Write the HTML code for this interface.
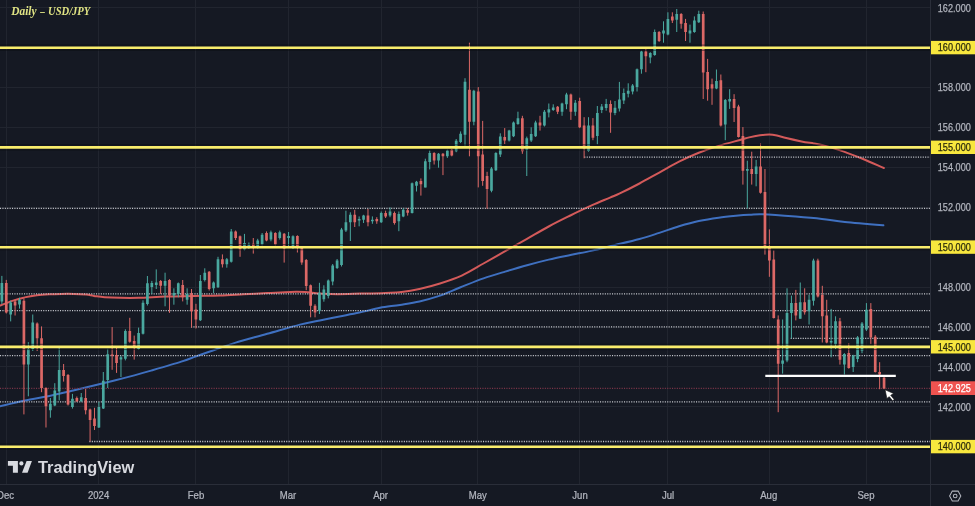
<!DOCTYPE html>
<html><head><meta charset="utf-8"><title>USD/JPY Daily</title>
<style>html,body{margin:0;padding:0;background:#151923;}body{width:975px;height:506px;overflow:hidden;position:relative;}</style>
</head><body>
<svg width="975" height="506" viewBox="0 0 975 506" style="position:absolute;left:0;top:0;filter:blur(0.3px)"><path d="M0 446.5H930M0 406.5H930M0 366.5H930M0 327.5H930M0 287.5H930M0 247.5H930M0 207.5H930M0 167.5H930M0 127.5H930M0 87.5H930M0 47.5H930M0 7.5H930M6.5 0V484M98.5 0V484M195.5 0V484M288.5 0V484M381.5 0V484M477.5 0V484M579.5 0V484M667.5 0V484M769.5 0V484M866.5 0V484" stroke="#21252f" stroke-width="1" fill="none"/><path d="M930.5 0V506M0 484.5H975" stroke="#2a2e39" stroke-width="1" fill="none"/><path d="M0.0 305.6C2.1 304.8 8.2 302.3 12.3 300.9C16.4 299.5 20.5 298.3 24.6 297.4C28.7 296.4 32.8 295.7 36.9 295.2C41.0 294.7 45.1 294.5 49.2 294.3C53.3 294.1 57.4 294.0 61.5 293.9C65.6 293.8 69.7 293.8 73.8 293.9C77.9 294.0 82.8 294.3 86.2 294.6C89.6 294.9 90.9 295.5 94.0 295.9C97.1 296.3 100.3 296.9 104.6 297.2C108.9 297.5 114.4 297.7 120.0 297.8C125.6 297.9 130.7 298.0 138.4 297.8C146.1 297.6 156.8 296.9 166.0 296.6C175.2 296.3 184.7 296.2 193.7 296.0C202.7 295.8 211.7 295.8 220.0 295.5C228.3 295.2 235.7 294.7 243.6 294.3C251.5 293.9 259.3 293.5 267.2 293.1C275.1 292.7 284.5 292.1 290.8 291.9C297.1 291.7 300.3 291.8 305.0 292.0C309.7 292.2 313.6 293.0 319.1 293.4C324.6 293.8 330.9 294.2 338.0 294.2C345.1 294.2 353.6 293.8 361.5 293.6C369.4 293.4 378.4 293.2 385.1 292.9C391.8 292.6 395.7 292.7 401.6 292.0C407.5 291.3 414.1 290.1 420.5 288.7C426.9 287.3 433.1 285.7 440.0 283.5C446.9 281.3 454.4 278.9 461.7 275.6C468.9 272.3 476.2 267.6 483.5 263.5C490.8 259.4 497.9 255.3 505.2 251.2C512.5 247.1 519.8 243.0 527.0 238.9C534.2 234.8 541.5 230.4 548.7 226.5C555.9 222.6 563.1 219.1 570.4 215.5C577.6 211.9 585.6 208.2 592.2 205.2C598.8 202.2 605.4 199.6 610.0 197.6C614.6 195.6 614.9 195.8 619.8 193.4C624.7 191.1 632.9 187.0 639.5 183.5C646.1 180.0 652.7 176.2 659.3 172.6C665.9 169.0 672.4 165.0 679.0 161.7C685.6 158.4 692.2 155.4 698.8 152.8C705.4 150.2 711.7 148.0 718.6 145.9C725.5 143.8 734.9 141.4 740.0 140.0C745.1 138.6 745.9 138.2 749.2 137.4C752.5 136.6 756.7 135.8 760.0 135.3C763.3 134.8 766.4 134.6 769.2 134.6C772.0 134.6 774.1 135.0 776.9 135.6C779.7 136.2 782.1 137.0 786.2 138.0C790.3 139.0 796.9 140.5 801.5 141.4C806.1 142.3 810.2 142.8 813.8 143.4C817.4 144.1 820.0 144.6 823.1 145.3C826.2 146.1 828.2 146.6 832.3 147.9C836.4 149.2 842.6 151.2 847.7 153.1C852.8 154.9 857.1 156.5 863.1 159.0C869.1 161.5 880.3 166.5 883.8 168.0" stroke="#d35a5a" stroke-width="2" fill="none" stroke-linecap="round"/><path d="M0.0 406.3C3.9 405.4 15.0 402.5 23.6 400.7C32.2 398.9 43.3 397.1 51.4 395.5C59.5 393.9 64.6 392.5 71.9 390.8C79.2 389.1 86.4 387.4 95.0 385.3C103.6 383.2 114.1 380.6 123.7 378.1C133.3 375.6 142.8 372.9 152.4 370.2C162.0 367.4 174.0 363.9 181.2 361.6C188.4 359.3 190.7 358.3 195.5 356.6C200.3 354.9 203.3 353.8 209.9 351.5C216.5 349.2 225.4 345.8 235.0 342.9C244.6 339.9 256.4 336.9 267.2 333.8C278.0 330.8 291.2 326.8 300.0 324.6C308.8 322.4 313.2 321.9 319.8 320.5C326.4 319.1 332.9 317.8 339.5 316.5C346.1 315.2 352.6 314.1 359.3 312.6C366.1 311.2 373.2 309.1 380.0 307.8C386.8 306.5 393.4 306.0 400.0 304.9C406.6 303.8 412.9 302.9 419.5 301.4C426.1 299.9 432.6 298.2 439.3 295.9C446.1 293.6 452.6 290.4 460.0 287.5C467.4 284.6 476.0 281.0 483.5 278.4C491.0 275.8 497.9 273.8 505.2 271.6C512.5 269.4 519.8 267.2 527.0 265.2C534.2 263.2 541.5 261.3 548.7 259.6C555.9 257.9 563.1 256.5 570.4 255.0C577.6 253.5 584.8 252.3 592.2 250.6C599.6 248.9 607.1 246.9 615.0 245.0C622.9 243.1 632.1 241.0 639.5 239.0C646.9 237.0 652.7 235.0 659.3 232.9C665.9 230.8 672.4 228.3 679.0 226.3C685.6 224.3 692.2 222.4 698.8 221.0C705.4 219.6 712.0 218.6 718.6 217.7C725.2 216.8 733.1 216.1 738.3 215.6C743.5 215.1 745.9 215.0 750.0 214.8C754.1 214.6 755.2 214.0 762.8 214.3C770.4 214.6 785.8 215.8 795.6 216.6C805.5 217.4 813.7 218.1 821.9 219.0C830.1 219.9 834.6 220.9 844.9 222.0C855.1 223.1 877.0 224.8 883.4 225.3" stroke="#3f70c0" stroke-width="2" fill="none" stroke-linecap="round"/><path d="M584.3 157.2H930M0.0 208.3H930M0.0 293.8H930M0.0 310.7H930M191.0 326.8H930M790.7 338.4H930M0.0 355.7H930M0.0 401.8H930M89.4 441.5H930" stroke="#c4c6cc" stroke-width="1.3" stroke-dasharray="1.1 1.3" fill="none"/><path d="M0 388.3H930" stroke="#7a3548" stroke-width="1.3" stroke-dasharray="1.1 1.3" fill="none"/><path d="M1.86 275.9V304.0M10.68 300.7V321.4M19.50 297.7V308.6M28.33 342.2V396.3M32.74 314.5V351.0M50.38 398.0V417.7M54.79 383.2V406.2M59.20 348.1V400.4M72.44 393.9V408.6M81.26 393.0V402.0M98.90 402.0V428.0M103.31 372.0V409.0M107.72 348.9V388.0M120.96 355.6V377.0M125.37 329.3V360.4M138.60 327.6V349.8M143.01 300.3V334.5M147.42 276.0V305.5M151.83 280.9V294.0M156.25 269.4V289.0M165.07 272.7V306.3M173.89 288.3V304.7M178.30 282.5V297.3M187.12 288.3V304.7M200.35 275.0V321.0M204.77 268.3V281.5M213.59 281.5V293.0M218.00 256.8V288.0M226.82 258.0V267.7M231.23 229.0V262.6M244.47 233.9V250.3M248.88 242.5V249.0M257.70 238.8V248.6M262.11 233.0V245.3M270.93 230.6V241.3M279.75 230.6V239.6M288.57 232.0V248.0M292.99 235.3V249.0M319.45 282.8V314.0M323.86 285.3V301.7M328.27 279.5V298.4M332.69 264.0V285.3M337.10 259.0V269.0M341.51 227.9V266.5M345.92 210.7V232.0M350.33 212.3V241.0M359.15 216.4V226.3M363.56 214.8V223.0M372.38 216.4V223.8M381.21 211.5V223.0M390.03 207.4V217.2M398.85 211.5V231.2M403.26 208.2V217.2M412.08 182.5V213.5M416.49 180.9V191.5M425.32 158.7V187.4M429.73 150.5V169.4M438.55 153.0V167.7M447.37 149.7V157.9M456.19 139.0V152.2M460.60 131.4V143.1M465.01 78.2V145.6M473.84 89.8V125.3M491.48 167.0V192.3M495.89 152.2V171.0M500.30 133.3V157.0M509.12 129.8V141.5M513.54 121.5V137.1M517.95 111.7V124.8M526.77 136.6V176.0M531.18 127.3V142.0M535.59 120.7V137.0M544.41 110.0V126.5M548.82 103.5V117.4M553.24 104.3V110.9M562.06 102.7V115.8M566.47 92.8V109.2M575.29 100.0V115.8M588.52 117.2V151.7M597.34 106.0V144.3M601.76 104.0V113.1M606.17 98.9V110.7M614.99 101.0V115.2M619.40 81.9V111.5M623.81 88.5V104.0M628.22 83.3V97.4M632.63 84.0V94.4M637.04 68.5V91.5M641.45 50.7V73.7M650.28 52.2V63.3M654.69 29.5V55.8M663.51 21.3V42.7M667.92 12.3V35.3M676.74 9.0V32.0M689.98 24.6V42.7M694.39 16.4V32.8M698.80 10.7V23.0M716.44 69.5V89.2M725.26 99.0V140.2M729.67 89.2V108.9M747.32 160.7V208.4M756.14 159.9V186.3M782.61 319.5V373.6M787.02 288.3V362.2M791.43 295.6V338.4M800.25 282.5V318.7M809.07 294.8V324.5M813.48 258.7V305.6M831.13 308.9V357.3M835.54 316.3V349.0M844.36 353.1V374.5M853.18 354.8V372.0M857.59 336.0V362.2M862.00 322.0V353.2M866.42 303.1V331.0" stroke="#4aa89f" stroke-width="1" fill="none"/><path d="M0.51 282.9h2.7v18.7h-2.7zM9.33 302.6h2.7v11.9h-2.7zM18.15 299.7h2.7v4.9h-2.7zM26.98 349.0h2.7v15.5h-2.7zM31.39 322.4h2.7v26.7h-2.7zM49.03 403.7h2.7v6.6h-2.7zM53.44 390.6h2.7v14.8h-2.7zM57.85 370.0h2.7v21.4h-2.7zM71.09 398.8h2.7v8.2h-2.7zM79.91 397.2h2.7v4.1h-2.7zM97.55 407.0h2.7v20.5h-2.7zM101.96 380.7h2.7v27.9h-2.7zM106.37 354.2h2.7v25.8h-2.7zM119.61 357.2h2.7v2.2h-2.7zM124.02 331.1h2.7v27.6h-2.7zM137.25 332.9h2.7v16.0h-2.7zM141.66 302.7h2.7v31.1h-2.7zM146.07 283.3h2.7v20.7h-2.7zM150.48 283.0h2.7v4.0h-2.7zM154.90 282.5h2.7v2.5h-2.7zM163.72 280.9h2.7v4.9h-2.7zM172.54 293.0h2.7v2.6h-2.7zM176.95 283.3h2.7v10.7h-2.7zM185.77 294.0h2.7v5.7h-2.7zM199.00 280.9h2.7v39.4h-2.7zM203.42 272.7h2.7v7.3h-2.7zM212.24 282.5h2.7v5.8h-2.7zM216.65 259.3h2.7v27.9h-2.7zM225.47 259.3h2.7v4.9h-2.7zM229.88 231.4h2.7v30.4h-2.7zM243.12 242.9h2.7v6.6h-2.7zM247.53 244.5h2.7v3.3h-2.7zM256.35 240.4h2.7v6.6h-2.7zM260.76 234.7h2.7v9.8h-2.7zM269.58 232.2h2.7v7.4h-2.7zM278.40 232.2h2.7v5.8h-2.7zM287.22 236.0h2.7v2.0h-2.7zM291.64 236.2h2.7v11.4h-2.7zM318.10 292.7h2.7v18.0h-2.7zM322.51 289.4h2.7v9.8h-2.7zM326.92 280.4h2.7v15.6h-2.7zM331.33 265.6h2.7v15.9h-2.7zM335.75 260.5h2.7v7.5h-2.7zM340.16 229.5h2.7v35.5h-2.7zM344.57 222.2h2.7v8.2h-2.7zM348.98 214.8h2.7v7.4h-2.7zM357.80 218.9h2.7v1.6h-2.7zM362.21 215.6h2.7v4.1h-2.7zM371.03 219.7h2.7v1.6h-2.7zM379.86 213.1h2.7v9.1h-2.7zM388.68 211.5h2.7v4.1h-2.7zM397.50 214.0h2.7v7.3h-2.7zM401.91 209.8h2.7v6.6h-2.7zM410.73 183.3h2.7v29.8h-2.7zM415.14 181.7h2.7v4.1h-2.7zM423.97 161.2h2.7v26.2h-2.7zM428.38 153.0h2.7v9.0h-2.7zM437.20 153.8h2.7v6.6h-2.7zM446.02 150.5h2.7v5.8h-2.7zM454.84 140.7h2.7v10.6h-2.7zM459.25 133.8h2.7v8.2h-2.7zM463.66 81.8h2.7v52.9h-2.7zM472.49 90.7h2.7v31.1h-2.7zM490.13 168.6h2.7v22.1h-2.7zM494.54 153.0h2.7v17.2h-2.7zM498.95 136.6h2.7v18.0h-2.7zM507.77 130.6h2.7v9.8h-2.7zM512.19 122.4h2.7v13.9h-2.7zM516.60 118.3h2.7v5.7h-2.7zM525.42 138.2h2.7v11.5h-2.7zM529.83 134.0h2.7v6.4h-2.7zM534.24 122.4h2.7v13.9h-2.7zM543.06 111.7h2.7v13.9h-2.7zM547.47 109.2h2.7v3.3h-2.7zM551.88 107.6h2.7v2.4h-2.7zM560.71 103.5h2.7v8.2h-2.7zM565.12 94.5h2.7v9.8h-2.7zM573.94 102.7h2.7v9.0h-2.7zM587.17 125.4h2.7v25.5h-2.7zM595.99 113.1h2.7v23.0h-2.7zM600.41 106.6h2.7v3.4h-2.7zM604.82 104.1h2.7v3.9h-2.7zM613.64 107.8h2.7v5.3h-2.7zM618.05 99.6h2.7v8.9h-2.7zM622.46 93.0h2.7v7.4h-2.7zM626.87 90.7h2.7v3.0h-2.7zM631.28 85.6h2.7v5.9h-2.7zM635.69 69.3h2.7v17.7h-2.7zM640.10 51.5h2.7v17.8h-2.7zM648.93 53.0h2.7v4.5h-2.7zM653.34 32.0h2.7v23.0h-2.7zM662.16 30.4h2.7v3.2h-2.7zM666.57 18.9h2.7v15.6h-2.7zM675.39 13.9h2.7v5.8h-2.7zM688.63 30.4h2.7v3.2h-2.7zM693.04 20.5h2.7v11.5h-2.7zM697.45 13.9h2.7v8.3h-2.7zM715.09 81.0h2.7v7.4h-2.7zM723.91 99.9h2.7v24.7h-2.7zM728.32 99.0h2.7v2.5h-2.7zM745.97 169.0h2.7v1.7h-2.7zM754.79 166.6h2.7v7.4h-2.7zM781.26 360.6h2.7v3.2h-2.7zM785.67 313.0h2.7v47.5h-2.7zM790.08 303.1h2.7v9.9h-2.7zM798.90 302.3h2.7v16.4h-2.7zM807.72 299.8h2.7v11.5h-2.7zM812.13 260.4h2.7v40.3h-2.7zM829.78 340.9h2.7v1.6h-2.7zM834.19 321.2h2.7v23.0h-2.7zM843.01 354.0h2.7v10.6h-2.7zM851.83 355.6h2.7v11.5h-2.7zM856.24 337.6h2.7v21.3h-2.7zM860.65 323.6h2.7v27.1h-2.7zM865.07 309.7h2.7v19.7h-2.7z" fill="#4aa89f"/><path d="M6.27 279.9V313.5M15.09 299.7V315.5M23.91 298.7V414.4M37.15 322.4V351.0M41.56 326.4V392.2M45.97 387.3V427.5M63.61 364.0V381.6M68.02 374.0V405.5M76.85 396.5V402.0M85.67 389.0V414.4M90.08 408.6V441.5M94.49 407.8V430.0M112.13 327.1V369.8M116.55 348.0V372.9M129.78 317.8V342.7M134.19 335.6V359.6M160.66 280.0V294.0M169.48 279.2V312.9M182.71 280.0V301.4M191.53 289.0V327.6M195.94 303.8V328.5M209.18 271.0V290.5M222.41 254.4V267.5M235.64 230.5V240.0M240.05 235.5V256.8M253.29 238.0V253.6M266.52 231.4V241.3M275.34 232.2V245.3M284.16 233.0V262.6M297.40 235.3V252.5M301.81 246.0V264.8M306.22 259.0V290.2M310.63 284.5V317.3M315.04 304.2V317.3M354.74 209.8V227.0M367.97 209.0V226.3M376.79 217.2V223.8M385.62 210.7V218.0M394.44 211.5V224.6M407.67 208.2V215.6M420.90 178.4V195.6M434.14 152.2V164.5M442.96 153.0V175.1M451.78 148.9V156.3M469.43 42.7V156.3M478.25 87.1V187.4M482.66 120.9V185.8M487.07 171.8V208.8M504.71 128.1V144.0M522.36 115.8V153.8M540.00 115.8V130.6M557.65 106.0V114.1M570.88 93.6V119.9M579.70 97.7V128.1M584.11 117.2V158.3M592.93 118.1V140.2M610.58 100.4V132.8M645.87 49.2V72.2M659.10 31.0V42.0M672.33 12.3V23.0M681.15 13.1V28.7M685.56 18.9V41.0M703.21 11.5V99.0M707.62 58.9V100.7M712.03 78.6V104.8M720.85 74.5V126.5M734.09 94.2V122.0M738.50 104.8V137.5M742.91 127.1V184.6M751.73 151.7V184.6M760.55 143.5V193.6M764.96 169.0V254.6M769.37 229.4V276.8M773.78 250.5V318.5M778.20 315.4V412.2M795.84 289.9V320.4M804.66 288.3V314.6M817.89 258.7V297.5M822.31 285.8V342.5M826.72 299.8V343.3M839.95 317.9V364.6M848.77 343.3V368.7M870.83 303.1V344.2M875.24 335.1V372.5M879.65 362.2V389.2M884.06 377.0V389.2" stroke="#dc6866" stroke-width="1" fill="none"/><path d="M4.92 282.9h2.7v29.6h-2.7zM13.74 301.6h2.7v4.0h-2.7zM22.56 300.7h2.7v63.8h-2.7zM35.80 323.4h2.7v14.8h-2.7zM40.21 338.2h2.7v49.9h-2.7zM44.62 388.1h2.7v18.1h-2.7zM62.26 370.0h2.7v6.0h-2.7zM66.67 375.0h2.7v29.5h-2.7zM75.50 398.0h2.7v3.3h-2.7zM84.32 398.0h2.7v12.3h-2.7zM88.73 409.5h2.7v10.6h-2.7zM93.14 418.5h2.7v7.4h-2.7zM110.78 354.4h2.7v1.4h-2.7zM115.20 355.1h2.7v8.0h-2.7zM128.43 331.1h2.7v10.7h-2.7zM132.84 340.9h2.7v7.1h-2.7zM159.31 280.9h2.7v4.9h-2.7zM168.13 280.0h2.7v15.6h-2.7zM181.36 285.0h2.7v12.3h-2.7zM190.18 293.2h2.7v18.0h-2.7zM194.59 309.6h2.7v9.8h-2.7zM207.83 271.8h2.7v17.2h-2.7zM221.06 259.3h2.7v4.9h-2.7zM234.29 231.4h2.7v6.6h-2.7zM238.70 236.3h2.7v13.2h-2.7zM251.94 243.7h2.7v4.1h-2.7zM265.17 233.0h2.7v7.4h-2.7zM273.99 233.0h2.7v11.5h-2.7zM282.81 233.8h2.7v14.8h-2.7zM296.05 236.1h2.7v10.7h-2.7zM300.46 246.8h2.7v15.6h-2.7zM304.87 259.9h2.7v26.2h-2.7zM309.28 285.3h2.7v20.5h-2.7zM313.69 305.8h2.7v6.6h-2.7zM353.39 214.8h2.7v7.4h-2.7zM366.62 215.6h2.7v6.6h-2.7zM375.44 218.9h2.7v2.4h-2.7zM384.27 213.1h2.7v3.3h-2.7zM393.09 213.1h2.7v9.9h-2.7zM406.32 210.2h2.7v2.6h-2.7zM419.55 180.9h2.7v3.3h-2.7zM432.79 153.0h2.7v7.4h-2.7zM441.61 153.8h2.7v2.5h-2.7zM450.43 149.7h2.7v5.7h-2.7zM468.08 89.8h2.7v32.0h-2.7zM476.90 91.6h2.7v64.7h-2.7zM481.31 154.6h2.7v26.3h-2.7zM485.72 176.0h2.7v13.0h-2.7zM503.36 137.0h2.7v3.4h-2.7zM521.01 118.3h2.7v33.0h-2.7zM538.65 122.4h2.7v3.2h-2.7zM556.30 106.8h2.7v4.9h-2.7zM569.53 94.5h2.7v17.2h-2.7zM578.35 101.0h2.7v26.3h-2.7zM582.76 125.4h2.7v23.0h-2.7zM591.58 125.4h2.7v12.3h-2.7zM609.23 104.1h2.7v8.4h-2.7zM644.52 51.5h2.7v4.8h-2.7zM657.75 32.0h2.7v9.0h-2.7zM670.98 16.4h2.7v4.1h-2.7zM679.80 13.9h2.7v9.9h-2.7zM684.21 23.0h2.7v9.0h-2.7zM701.86 13.9h2.7v58.6h-2.7zM706.27 72.0h2.7v17.2h-2.7zM710.68 84.3h2.7v4.1h-2.7zM719.50 80.2h2.7v45.2h-2.7zM732.74 99.0h2.7v9.1h-2.7zM737.15 106.6h2.7v30.3h-2.7zM741.56 136.1h2.7v34.6h-2.7zM750.38 169.0h2.7v5.0h-2.7zM759.20 166.6h2.7v26.2h-2.7zM763.61 192.0h2.7v54.4h-2.7zM768.02 246.6h2.7v13.8h-2.7zM772.43 259.5h2.7v58.4h-2.7zM776.85 319.5h2.7v44.3h-2.7zM794.49 303.1h2.7v12.3h-2.7zM803.31 302.3h2.7v9.9h-2.7zM816.54 260.4h2.7v36.2h-2.7zM820.96 294.9h2.7v21.4h-2.7zM825.37 315.4h2.7v27.1h-2.7zM838.60 321.2h2.7v38.5h-2.7zM847.42 353.1h2.7v14.8h-2.7zM869.48 308.9h2.7v28.7h-2.7zM873.89 336.8h2.7v35.2h-2.7zM878.30 372.0h2.7v2.5h-2.7zM882.71 377.7h2.7v10.7h-2.7z" fill="#dc6866"/><path d="M0 45.1H930M0 50.3H930" stroke="#0c0e12" stroke-width="1" opacity="0.6" fill="none"/><path d="M0 47.7H930" stroke="#f9ed6c" stroke-width="2.6" fill="none"/><path d="M0 144.8H930M0 150.0H930" stroke="#0c0e12" stroke-width="1" opacity="0.6" fill="none"/><path d="M0 147.4H930" stroke="#f9ed6c" stroke-width="2.6" fill="none"/><path d="M0 244.6H930M0 249.8H930" stroke="#0c0e12" stroke-width="1" opacity="0.6" fill="none"/><path d="M0 247.2H930" stroke="#f9ed6c" stroke-width="2.6" fill="none"/><path d="M0 344.3H930M0 349.6H930" stroke="#0c0e12" stroke-width="1" opacity="0.6" fill="none"/><path d="M0 346.9H930" stroke="#f9ed6c" stroke-width="2.6" fill="none"/><path d="M0 444.1H930M0 449.3H930" stroke="#0c0e12" stroke-width="1" opacity="0.6" fill="none"/><path d="M0 446.7H930" stroke="#f9ed6c" stroke-width="2.6" fill="none"/><path d="M765.3 375.9H895.8" stroke="#ffffff" stroke-width="2.2" fill="none"/><path d="M885.1 389.8L893.6 393.5L890.7 395.3L894.2 399.5L892.6 400.8L889.3 396.7L886.9 398.4Z" fill="#ffffff" stroke="#111" stroke-width="0.6" stroke-linejoin="round"/><text x="937.8" y="11.5" fill="#b2b5be" stroke="#b2b5be" stroke-width="0.25" font-family="Liberation Sans, Arial, sans-serif" font-size="10.6" textLength="33" lengthAdjust="spacingAndGlyphs">162.000</text><rect x="931" y="40.9" width="44" height="13.4" fill="#f8e73e"/><text x="937.8" y="51.4" fill="#2a2a0c" stroke="#2a2a0c" stroke-width="0.25" font-family="Liberation Sans, Arial, sans-serif" font-size="10.6" textLength="33" lengthAdjust="spacingAndGlyphs">160.000</text><text x="937.8" y="91.3" fill="#b2b5be" stroke="#b2b5be" stroke-width="0.25" font-family="Liberation Sans, Arial, sans-serif" font-size="10.6" textLength="33" lengthAdjust="spacingAndGlyphs">158.000</text><text x="937.8" y="131.2" fill="#b2b5be" stroke="#b2b5be" stroke-width="0.25" font-family="Liberation Sans, Arial, sans-serif" font-size="10.6" textLength="33" lengthAdjust="spacingAndGlyphs">156.000</text><rect x="931" y="140.6" width="44" height="13.4" fill="#f8e73e"/><text x="937.8" y="151.1" fill="#2a2a0c" stroke="#2a2a0c" stroke-width="0.25" font-family="Liberation Sans, Arial, sans-serif" font-size="10.6" textLength="33" lengthAdjust="spacingAndGlyphs">155.000</text><text x="937.8" y="171.1" fill="#b2b5be" stroke="#b2b5be" stroke-width="0.25" font-family="Liberation Sans, Arial, sans-serif" font-size="10.6" textLength="33" lengthAdjust="spacingAndGlyphs">154.000</text><text x="937.8" y="211.0" fill="#b2b5be" stroke="#b2b5be" stroke-width="0.25" font-family="Liberation Sans, Arial, sans-serif" font-size="10.6" textLength="33" lengthAdjust="spacingAndGlyphs">152.000</text><rect x="931" y="240.4" width="44" height="13.4" fill="#f8e73e"/><text x="937.8" y="250.9" fill="#2a2a0c" stroke="#2a2a0c" stroke-width="0.25" font-family="Liberation Sans, Arial, sans-serif" font-size="10.6" textLength="33" lengthAdjust="spacingAndGlyphs">150.000</text><text x="937.8" y="290.8" fill="#b2b5be" stroke="#b2b5be" stroke-width="0.25" font-family="Liberation Sans, Arial, sans-serif" font-size="10.6" textLength="33" lengthAdjust="spacingAndGlyphs">148.000</text><text x="937.8" y="330.7" fill="#b2b5be" stroke="#b2b5be" stroke-width="0.25" font-family="Liberation Sans, Arial, sans-serif" font-size="10.6" textLength="33" lengthAdjust="spacingAndGlyphs">146.000</text><rect x="931" y="340.1" width="44" height="13.4" fill="#f8e73e"/><text x="937.8" y="350.6" fill="#2a2a0c" stroke="#2a2a0c" stroke-width="0.25" font-family="Liberation Sans, Arial, sans-serif" font-size="10.6" textLength="33" lengthAdjust="spacingAndGlyphs">145.000</text><text x="937.8" y="370.6" fill="#b2b5be" stroke="#b2b5be" stroke-width="0.25" font-family="Liberation Sans, Arial, sans-serif" font-size="10.6" textLength="33" lengthAdjust="spacingAndGlyphs">144.000</text><rect x="931" y="381.3" width="44" height="13.7" fill="#ef5350"/><text x="937.8" y="392.0" fill="#ffffff" stroke="#ffffff" stroke-width="0.25" font-family="Liberation Sans, Arial, sans-serif" font-size="10.6" textLength="33" lengthAdjust="spacingAndGlyphs">142.925</text><text x="937.8" y="410.5" fill="#b2b5be" stroke="#b2b5be" stroke-width="0.25" font-family="Liberation Sans, Arial, sans-serif" font-size="10.6" textLength="33" lengthAdjust="spacingAndGlyphs">142.000</text><rect x="931" y="439.9" width="44" height="13.4" fill="#f8e73e"/><text x="937.8" y="450.4" fill="#2a2a0c" stroke="#2a2a0c" stroke-width="0.25" font-family="Liberation Sans, Arial, sans-serif" font-size="10.6" textLength="33" lengthAdjust="spacingAndGlyphs">140.000</text><text transform="translate(5.5,498.8) scale(0.93,1)" fill="#b2b5be" stroke="#b2b5be" stroke-width="0.25" text-anchor="middle" font-family="Liberation Sans, Arial, sans-serif" font-size="10.3">Dec</text><text transform="translate(98.6,498.8) scale(0.93,1)" fill="#b2b5be" stroke="#b2b5be" stroke-width="0.25" text-anchor="middle" font-family="Liberation Sans, Arial, sans-serif" font-size="10.3">2024</text><text transform="translate(196,498.8) scale(0.93,1)" fill="#b2b5be" stroke="#b2b5be" stroke-width="0.25" text-anchor="middle" font-family="Liberation Sans, Arial, sans-serif" font-size="10.3">Feb</text><text transform="translate(288,498.8) scale(0.93,1)" fill="#b2b5be" stroke="#b2b5be" stroke-width="0.25" text-anchor="middle" font-family="Liberation Sans, Arial, sans-serif" font-size="10.3">Mar</text><text transform="translate(380.6,498.8) scale(0.93,1)" fill="#b2b5be" stroke="#b2b5be" stroke-width="0.25" text-anchor="middle" font-family="Liberation Sans, Arial, sans-serif" font-size="10.3">Apr</text><text transform="translate(477.7,498.8) scale(0.93,1)" fill="#b2b5be" stroke="#b2b5be" stroke-width="0.25" text-anchor="middle" font-family="Liberation Sans, Arial, sans-serif" font-size="10.3">May</text><text transform="translate(580,498.8) scale(0.93,1)" fill="#b2b5be" stroke="#b2b5be" stroke-width="0.25" text-anchor="middle" font-family="Liberation Sans, Arial, sans-serif" font-size="10.3">Jun</text><text transform="translate(668,498.8) scale(0.93,1)" fill="#b2b5be" stroke="#b2b5be" stroke-width="0.25" text-anchor="middle" font-family="Liberation Sans, Arial, sans-serif" font-size="10.3">Jul</text><text transform="translate(768.7,498.8) scale(0.93,1)" fill="#b2b5be" stroke="#b2b5be" stroke-width="0.25" text-anchor="middle" font-family="Liberation Sans, Arial, sans-serif" font-size="10.3">Aug</text><text transform="translate(866,498.8) scale(0.93,1)" fill="#b2b5be" stroke="#b2b5be" stroke-width="0.25" text-anchor="middle" font-family="Liberation Sans, Arial, sans-serif" font-size="10.3">Sep</text><g transform="translate(955.2,496)" fill="none" stroke="#b2b5be" stroke-width="1.05"><path d="M-2.9 -4.9L2.9 -4.9L5.6 0L2.9 4.9L-2.9 4.9L-5.6 0Z"/><circle r="1.8"/></g><g fill="#d8dae0"><path d="M7.9 461.1H17.9V472.8H12.9V465.8H7.9Z"/><circle cx="21.4" cy="463.4" r="2.1"/><path d="M26.6 461.1H31.9L27.6 472.8H22Z"/></g><text x="38" y="473" fill="#d8dae0" font-family="Liberation Sans, Arial, sans-serif" font-weight="bold" font-size="16.4">TradingView</text><text y="15.4" fill="#e0e484" font-family="Liberation Serif, serif" font-weight="bold" font-style="italic" font-size="11.8"><tspan x="11.3" textLength="25.3" lengthAdjust="spacingAndGlyphs">Daily</tspan> <tspan x="40.2" textLength="4.6" lengthAdjust="spacingAndGlyphs">–</tspan> <tspan x="48.0" textLength="42.3" lengthAdjust="spacingAndGlyphs">USD/JPY</tspan></text></svg>
</body></html>
